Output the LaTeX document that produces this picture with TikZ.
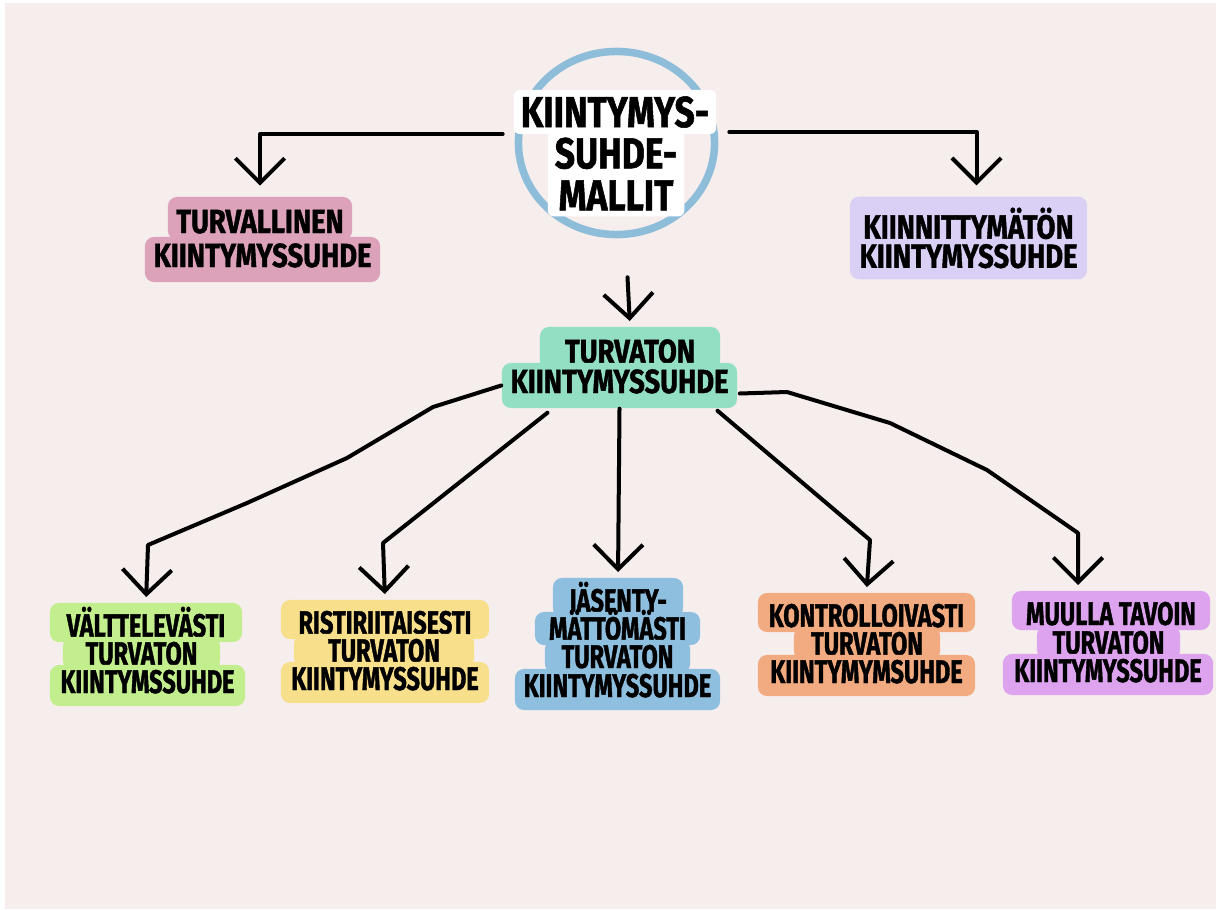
\documentclass[tikz,border=0pt]{standalone}
\usepackage{fontspec}
\newfontfamily\handfont{Fira Sans}[FakeStretch=0.82, FakeBold=1.2]
\newfontfamily\handfontn{Fira Sans}[FakeStretch=0.72, FakeBold=1.2]
\newcommand\topfont{\handfont\bfseries\fontsize{9.5}{8.3}\selectfont}
\newcommand\lowfont{\handfontn\bfseries\fontsize{9.3}{8}\selectfont}
\newcommand\rootfont{\handfont\bfseries\fontsize{12.3}{11.95}\selectfont}
\usetikzlibrary{arrows.meta, shapes.geometric}

\definecolor{bgpink}{HTML}{F6EDED}
\definecolor{cblue}{HTML}{8EBDDA}
\definecolor{tlpink}{HTML}{DBA2B9}
\definecolor{ktlav}{HTML}{DACFF5}
\definecolor{ttmint}{HTML}{93DFC3}
\definecolor{vagreen}{HTML}{C3EE8E}
\definecolor{riyellow}{HTML}{F8DF8B}
\definecolor{jablue}{HTML}{8FBFDE}
\definecolor{kopeach}{HTML}{F2AB80}
\definecolor{muviolet}{HTML}{DDA3EF}

\begin{document}
\begin{tikzpicture}[x=0.01cm, y=-0.01cm,
    ln/.style={fill=#1, rounded corners=0.09cm, inner xsep=0.08cm, inner ysep=0.05cm,
      text height=0.23cm, text depth=0pt, anchor=base},
    up/.style={ln=#1, font=\topfont, inner ysep=0.07cm},
    low/.style={ln=#1, font=\lowfont},
    firstln/.style={text height=0.29cm},
    lastln/.style={text depth=0.08cm},
    arr/.style={draw, line width=0.04cm, line cap=round, line join=round,
      -{Straight Barb[length=7pt,width=14pt]}, shorten >=1.5pt}]
    \fill[white] (0,0) rectangle (1216,909);
    \fill[bgpink] (5,3) rectangle (1216,909);

    % root
    \node[ellipse, draw=cblue, line width=0.075cm, minimum width=1.96cm,
      minimum height=1.83cm, inner sep=0pt] (km) at (616.5,143) {};
    \node[fill=white, font=\rootfont, rounded corners=0.06cm, text height=0.30cm,
      text depth=0pt, inner sep=0.07cm, minimum width=1.96cm, anchor=base] (km1) at (615,127) {KIINTYMYS-};
    \node[fill=white, font=\rootfont, rounded corners=0.06cm, align=center,
      inner xsep=0.07cm, inner ysep=0.06cm, minimum width=1.28cm] (km2) at (616,174) {SUHDE-\\MALLIT};

    % first level
    \node[up=tlpink, firstln, minimum width=1.84cm] (tl1) at (260,233) {TURVALLINEN};
    \node[up=tlpink, lastln, minimum width=2.35cm] (tl2) at (262.5,267) {KIINTYMYSSUHDE};

    \node[fill=ktlav, rounded corners=0.09cm, font=\topfont, align=center,
      inner xsep=0.08cm, inner ysep=0.11cm, minimum width=2.37cm] (kt) at (968.5,238) {KIINNITTYMÄTÖN\\KIINTYMYSSUHDE};

    \node[up=ttmint, firstln, minimum width=1.80cm] (tt1) at (630,363) {TURVATON};
    \node[up=ttmint, lastln, minimum width=2.35cm] (tt2) at (619.5,393) {KIINTYMYSSUHDE};

    % second level
    \node[low=vagreen, firstln, minimum width=1.92cm] (va1) at (146,637) {VÄLTTELEVÄSTI};
    \node[low=vagreen, minimum width=1.57cm] (va2) at (141.5,665) {TURVATON};
    \node[low=vagreen, lastln, minimum width=1.95cm] (va3) at (147.5,693) {KIINTYMSSUHDE};

    \node[low=riyellow, firstln, minimum width=2.08cm] (ri1) at (385,634) {RISTIRIITAISESTI};
    \node[low=riyellow, minimum width=1.80cm] (ri2) at (384,662) {TURVATON};
    \node[low=riyellow, lastln, minimum width=2.08cm] (ri3) at (385,690) {KIINTYMYSSUHDE};

    \node[low=jablue, firstln, minimum width=1.30cm] (ja1) at (618,612) {JÄSENTY-};
    \node[low=jablue, minimum width=1.65cm] (ja2) at (617.5,640) {MÄTTÖMÄSTI};
    \node[low=jablue, minimum width=1.45cm] (ja3) at (617.5,668) {TURVATON};
    \node[low=jablue, lastln, minimum width=2.05cm] (ja4) at (617.5,697) {KIINTYMYSSUHDE};

    \node[low=kopeach, firstln, minimum width=2.17cm] (ko1) at (866.5,627) {KONTROLLOIVASTI};
    \node[low=kopeach, minimum width=1.46cm] (ko2) at (867,655) {TURVATON};
    \node[low=kopeach, lastln, minimum width=2.17cm] (ko3) at (866.5,683) {KIINTYMYMSUHDE};

    \node[low=muviolet, firstln, minimum width=1.98cm] (mu1) at (1111,625) {MUULLA TAVOIN};
    \node[low=muviolet, minimum width=1.43cm] (mu2) at (1108.5,654) {TURVATON};
    \node[low=muviolet, lastln, minimum width=2.10cm] (mu3) at (1108,682) {KIINTYMYSSUHDE};

    % arrows
    \coordinate (b5) at (1078,533);
    \draw[arr, shorten >=3pt] ([shift={(-12,-9)}]km.west) -| (tl1.north);
    \draw[arr, shorten >=3pt] ([shift={(11,-11)}]km.east) -| ([shift={(8,0)}]kt.north);
    \draw[arr] ([shift={(11,39)}]km.south) -- (tt1.north);

    \draw[arr] (tt2.west) -- (433,407) -- (347,458) -- (247,503) -- (148,545) -- (va1.north);
    \draw[arr] ([shift={(-72,4)}]tt2.south) -- (383,543) -- (ri1.north);
    \draw[arr] (tt2.south) -- (ja1.north);
    \draw[arr] ([shift={(98,2)}]tt2.south) -- (870,540) -- (ko1.north);
    \draw[arr] ([shift={(2,8)}]tt2.east) -- (787,392) -- (890,423) -- (987,470) -- (b5) -- (b5 |- mu1.north);
\end{tikzpicture}
\end{document}
